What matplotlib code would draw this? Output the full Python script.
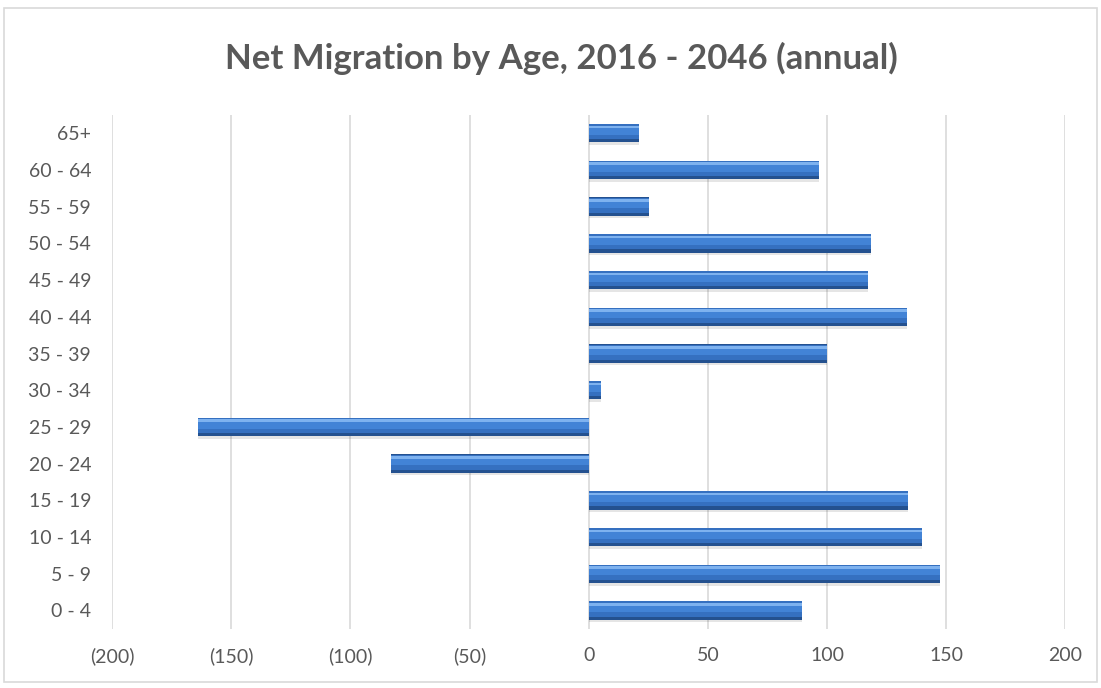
import matplotlib.pyplot as plt
from matplotlib.patches import Rectangle

# Data
age_groups = ['0 - 4', '5 - 9', '10 - 14', '15 - 19', '20 - 24', '25 - 29', '30 - 34',
              '35 - 39', '40 - 44', '45 - 49', '50 - 54', '55 - 59', '60 - 64', '65+']
net_migration = [89.5, 147.5, 140, 134, -83, -164, 5,
                 100, 133.5, 117, 118.5, 25.5, 96.5, 21]
x_ticks = [-200, -150, -100, -50, 0, 50, 100, 150, 200]
x_labels = ['(200)', '(150)', '(100)', '(50)', '0', '50', '100', '150', '200']

plt.rcParams['font.family'] = ['Lato', 'DejaVu Sans']
text_color = '#595959'

fig = plt.figure(figsize=(11.01, 6.88), dpi=100)
ax = fig.add_axes([0.1017, 0.086, 0.866, 0.747])

# light frame around the chart
fig.patches.append(Rectangle((0.004, 0.008), 0.992, 0.981, transform=fig.transFigure,
                             fill=False, edgecolor='#d9d9d9', linewidth=1.2))

ypos = list(range(len(age_groups)))
h = 0.5
# soft shadow under each bar
ax.barh([y - 0.07 for y in ypos], net_migration, height=h, color='#000000', alpha=0.10,
        linewidth=0, zorder=2)
# layered fills to fake the bevelled look: dark base, mid body, light top edge
ax.barh(ypos, net_migration, height=h, color='#24518f', linewidth=0, zorder=3)
ax.barh([y + 0.04 for y in ypos], net_migration, height=h * 0.82, color='#3570c0',
        linewidth=0, zorder=4)
ax.barh([y + 0.08 for y in ypos], net_migration, height=h * 0.5, color='#4283d6',
        linewidth=0, zorder=5)
ax.barh([y + 0.17 for y in ypos], net_migration, height=h * 0.14, color='#7eb2ef',
        linewidth=0, zorder=6)

ax.set_xlim(-200, 200)
ax.set_ylim(-0.5, len(age_groups) - 0.5)
ax.set_xticks(x_ticks)
ax.set_xticklabels(x_labels)
ax.set_yticks(ypos)
ax.set_yticklabels(age_groups)
ax.tick_params(axis='both', length=0, labelsize=14, colors=text_color)
ax.tick_params(axis='x', pad=13)
ax.tick_params(axis='y', pad=15)
ax.grid(axis='x', color='#d9d9d9', linewidth=1.2, zorder=0)
ax.set_axisbelow(True)
for s in ax.spines.values():
    s.set_visible(False)

fig.text(0.51, 0.915, 'Net Migration by Age, 2016 - 2046 (annual)', ha='center', va='center',
         fontsize=25, fontweight='bold', color=text_color)

plt.savefig('out.png', dpi=100)
